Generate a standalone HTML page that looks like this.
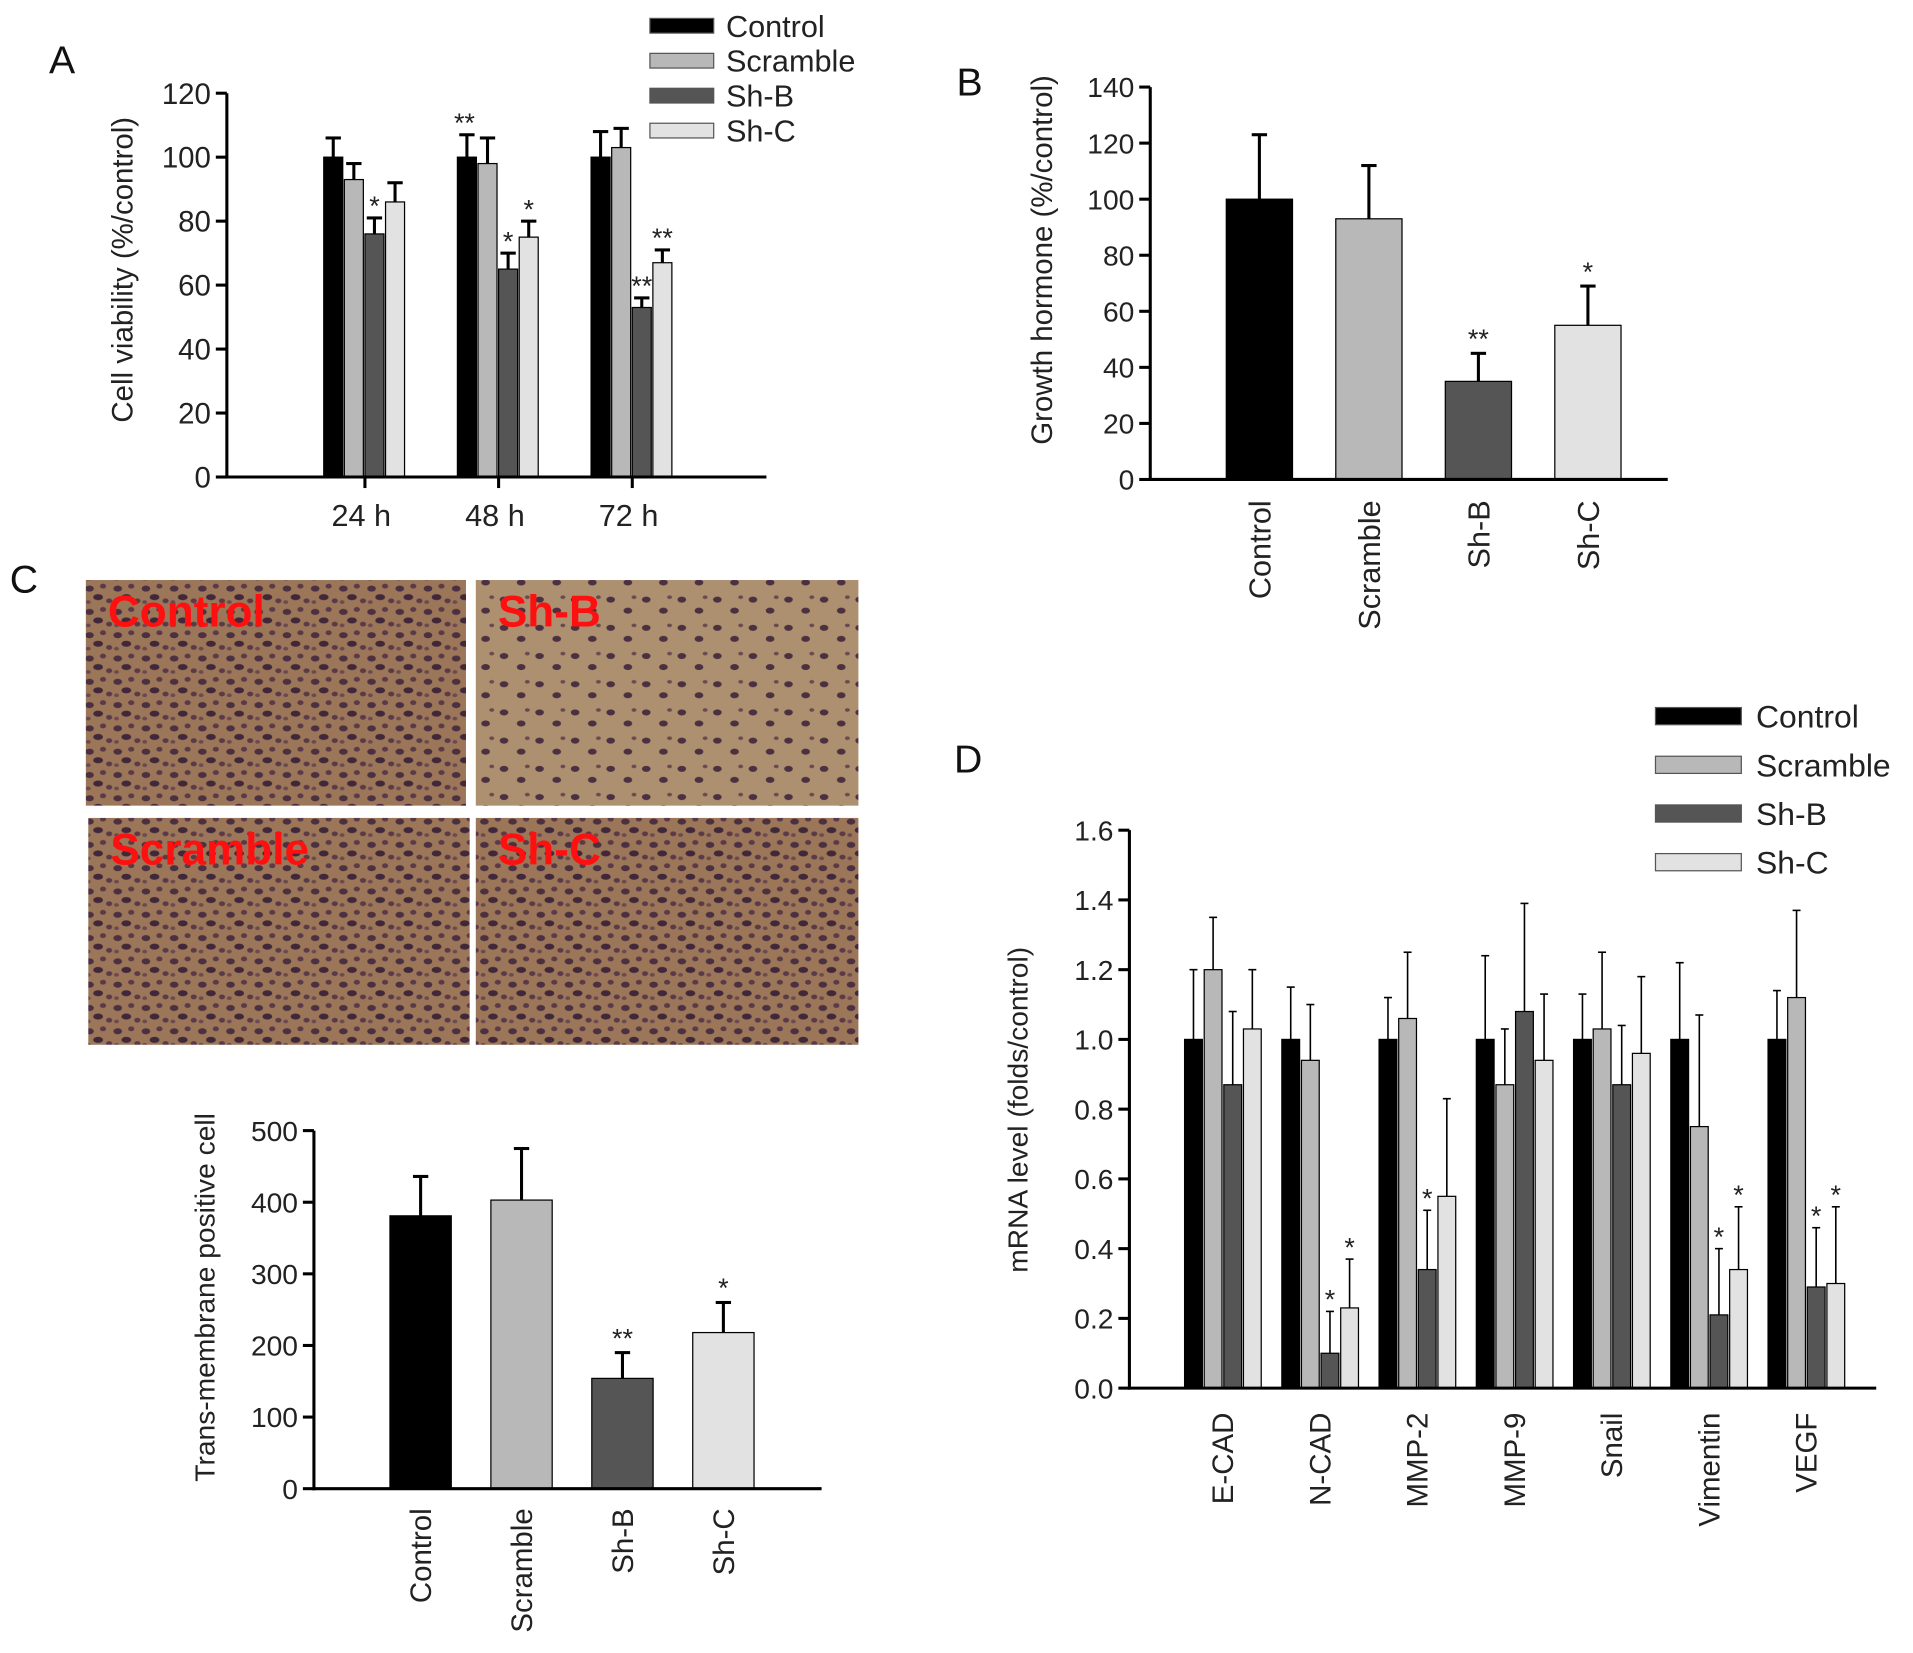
<!DOCTYPE html>
<html><head><meta charset="utf-8"><style>
html,body{margin:0;padding:0;background:#fff}
svg{display:block}
text{font-family:"Liberation Sans",Arial,sans-serif}
</style></head><body>
<svg id="fig" width="1913" height="1653" viewBox="0 0 1560 1348" preserveAspectRatio="none" xmlns="http://www.w3.org/2000/svg">
<defs>
<pattern id="cells" width="23" height="19" patternUnits="userSpaceOnUse">
<rect width="23" height="19" fill="#9c7658"/>
<ellipse cx="4" cy="5" rx="3.5" ry="2.5" fill="#4a3040"/>
<ellipse cx="15" cy="3" rx="2.5" ry="2" fill="#5a3a48"/>
<ellipse cx="11" cy="12" rx="4" ry="2.5" fill="#40283a"/>
<ellipse cx="20" cy="15" rx="2.5" ry="2" fill="#5a3a48"/>
<ellipse cx="3" cy="16" rx="2" ry="1.5" fill="#6a4a50"/>
</pattern>
<pattern id="cells2" width="29" height="23" patternUnits="userSpaceOnUse">
<rect width="29" height="23" fill="#ad9070"/>
<ellipse cx="5" cy="6" rx="3.5" ry="2.5" fill="#4a3040"/>
<ellipse cx="19" cy="15" rx="3.5" ry="2.5" fill="#4a3040"/>
<ellipse cx="24" cy="4" rx="2" ry="1.5" fill="#6a4a50"/>
</pattern>
</defs>
<g id="root"></g>
</svg>
<script>
// ---------- Panel A data ----------
const aCategories = ["24 h","48 h","72 h"];
const aControl = [100,100,100];
const aScramble = [93,98,103];
const aShB = [76,65,53];
const aShC = [86,75,67];
const aControlErr = [6,7,8];
const aScrambleErr = [5,8,6];
const aShBErr = [5,5,3];
const aShCErr = [6,5,4];
const aStars = [["","","*",""],["**","","*","*"],["","","**","**"]];
const aTicks = [0,20,40,60,80,100,120];
// ---------- Panel B data ----------
const bCategories = ["Control","Scramble","Sh-B","Sh-C"];
const bValues = [100,93,35,55];
const bErr = [23,19,10,14];
const bStars = ["","","**","*"];
const bTicks = [0,20,40,60,80,100,120,140];
// ---------- Panel C data ----------
const cCategories = ["Control","Scramble","Sh-B","Sh-C"];
const cValues = [381,403,154,218];
const cErr = [55,72,36,42];
const cStars = ["","","**","*"];
const cTicks = [0,100,200,300,400,500];
// ---------- Panel D data ----------
const dCategories = ["E-CAD","N-CAD","MMP-2","MMP-9","Snail","Vimentin","VEGF"];
const dControl = [1.0,1.0,1.0,1.0,1.0,1.0,1.0];
const dScramble = [1.2,0.94,1.06,0.87,1.03,0.75,1.12];
const dShB = [0.87,0.10,0.34,1.08,0.87,0.21,0.29];
const dShC = [1.03,0.23,0.55,0.94,0.96,0.34,0.30];
const dControlErr = [0.2,0.15,0.12,0.24,0.13,0.22,0.14];
const dScrambleErr = [0.15,0.16,0.19,0.16,0.22,0.32,0.25];
const dShBErr = [0.21,0.12,0.17,0.31,0.17,0.19,0.17];
const dShCErr = [0.17,0.14,0.28,0.19,0.22,0.18,0.22];
const dStars = [["","","",""],["","","*","*"],["","","*",""],["","","",""],["","","",""],["","","*","*"],["","","*","*"]];
const dTicks = ["0.0","0.2","0.4","0.6","0.8","1.0","1.2","1.4","1.6"];

const legendNames = ["Control","Scramble","Sh-B","Sh-C"];
const COLORS = ["#000000","#b8b8b8","#555555","#e2e2e2"];
const NS = "http://www.w3.org/2000/svg";
const root = document.getElementById("root");
function mk(tag, attrs, parent, txt){
  const e = document.createElementNS(NS, tag);
  for (const k in attrs) e.setAttribute(k, attrs[k]);
  if (txt !== undefined) e.textContent = txt;
  (parent||root).appendChild(e);
  return e;
}
function lin(d0,d1,r0,r1){ return v => r0 + (v-d0)/(d1-d0)*(r1-r0); }

function axes(g, x0, xEnd, y, yTicks, tickVals, fs, lw){
  const ax = mk("line",{x1:x0,y1:y(tickVals[tickVals.length-1]),x2:x0,y2:y(0)+lw/2,stroke:"#000","stroke-width":lw},g);
  
  
  const bx = mk("line",{x1:x0-lw/2,y1:y(0),x2:xEnd,y2:y(0),stroke:"#000","stroke-width":lw},g);
  
  
  tickVals.forEach((v,i)=>{
    const t = mk("line",{x1:x0-9,y1:y(v),x2:x0,y2:y(v),stroke:"#000","stroke-width":lw},g);
    
    
    const l = mk("text",{x:x0-13,y:y(v)+fs*0.36,"font-size":fs,"text-anchor":"end",fill:"#222"},g,yTicks[i]);
    
    
  });
}
function bar(g, x, w, v, err, y, color, lw, name){
  const e = mk("line",{x1:x+w/2,y1:y(v),x2:x+w/2,y2:y(v+err),stroke:"#000","stroke-width":lw},g);
  
  
  const c = mk("line",{x1:x+w/2-lw*2.5,y1:y(v+err),x2:x+w/2+lw*2.5,y2:y(v+err),stroke:"#000","stroke-width":lw},g);
  
  
  const r = mk("rect",{x:x,y:y(v),width:w,height:y(0)-y(v),fill:color,stroke:"#000","stroke-width":1},g);
  
  
}
function star(g,x,yy,s,fs){
  if(!s) return;
  const t = mk("text",{x:x,y:yy+fs*0.35,"font-size":fs,"text-anchor":"middle",fill:"#222"},g,s);
  
  
}
function legend(g,x,y0,dy,w,h,fs,tx){
  legendNames.forEach((n,i)=>{
    const r = mk("rect",{x:x,y:y0+i*dy,width:w,height:h,fill:COLORS[i],stroke:"#555","stroke-width":1},g);
    
    
    const t = mk("text",{x:tx,y:y0+i*dy+h/2+fs*0.36,"font-size":fs,fill:"#222"},g,n);
    
    
  });
}
function label(g,x,y,s,fs,name){
  const t = mk("text",{x:x,y:y,"font-size":fs,fill:"#111"},g,s);
  
  
}
function ytitle(g,x,cy,s,fs){
  const t = mk("text",{x:x,y:cy,"font-size":fs,"text-anchor":"middle",fill:"#222",transform:`rotate(-90 ${x} ${cy})`},g,s);
  
  
}
function rotLabel(g,cx,ytop,s,fs){
  const t = mk("text",{x:cx+fs*0.36,y:ytop,"font-size":fs,"text-anchor":"end",fill:"#222",transform:`rotate(-90 ${cx+fs*0.36} ${ytop})`},g,s);
  
  
}

// ---------- Panel A ----------
(function(){
  const g = mk("g",{});  
  label(g,40,60,"A",32,"panel-a-label");
  const y = lin(0,120,389,76);
  const x0 = 185, step = 109, first = 264, bw = 15.5;
  const series = [aControl,aScramble,aShB,aShC], errs=[aControlErr,aScrambleErr,aShBErr,aShCErr];
  aCategories.forEach((c,i)=>{
    const gx = first + i*step;
    series.forEach((s,j)=>{
      const bx = gx + j*(bw+1.3);
      bar(g,bx,bw,s[i],errs[j][i],y,COLORS[j],2.5,'bar-a-'+c.replace(' ','')+'-'+legendNames[j].toLowerCase());
      star(g,bx+bw/2+(aStars[i][j]=="**"&&j==0?-2:0),y(s[i]+errs[j][i])-10,aStars[i][j],22);
    });
    const cx = gx + 2*(bw+1.3);
    const t = mk("line",{x1:cx,y1:389,x2:cx,y2:398,stroke:"#000","stroke-width":2.5},g);
     
    const l = mk("text",{x:cx-3,y:429,"font-size":25,"text-anchor":"middle",fill:"#222"},g,c);
     
  });
  axes(g,x0,625,y,aTicks,aTicks,24,2.5);
  ytitle(g,108,220,"Cell viability (%/control)",24);
  legend(g,530,15,28.5,52,12,25,592);
})();

// ---------- Panel B ----------
(function(){
  const g = mk("g",{});  
  label(g,780,78,"B",32,"panel-b-label");
  const y = lin(0,140,391,71);
  const bw = 54, xs0 = 1000, step = 89.3;
  bCategories.forEach((c,i)=>{
    const bx = xs0 + i*step;
    bar(g,bx,bw,bValues[i],bErr[i],y,COLORS[i],2.5,'bar-b-'+c.toLowerCase());
    star(g,bx+bw/2,y(bValues[i]+bErr[i])-12,bStars[i],22);
    rotLabel(g,bx+bw/2,408,c,25);
  });
  axes(g,938,1360,y,bTicks,bTicks,23,2.5);
  ytitle(g,858,212,"Growth hormone (%/control)",24);
})();

// ---------- Panel C ----------
(function(){
  const g = mk("g",{});  
  label(g,8,483,"C",32,"panel-c-label");
  const imgs = [[70,473,310,184,"Control","cells"],[388,473,312,184,"Sh-B","cells2"],[72,667,311,185,"Scramble","cells"],[388,667,312,185,"Sh-C","cells"]];
  imgs.forEach(im=>{
    const r = mk("rect",{x:im[0],y:im[1],width:im[2],height:im[3],fill:`url(#${im[5]})`},g);
    
    
    const t = mk("text",{x:im[0]+18,y:im[1]+38,"font-size":36,"font-weight":"bold",fill:"#ff1010"},g,im[4]);
    
    
  });
  const y = lin(0,500,1214,922);
  const bw = 50, xs0 = 318, step = 82.3;
  cCategories.forEach((c,i)=>{
    const bx = xs0 + i*step;
    bar(g,bx,bw,cValues[i],cErr[i],y,COLORS[i],2.5,'bar-c-'+c.toLowerCase());
    star(g,bx+bw/2,y(cValues[i]+cErr[i])-12,cStars[i],22);
    rotLabel(g,bx+bw/2,1230,c,24);
  });
  axes(g,256,670,y,cTicks,cTicks,23,2.5);
  ytitle(g,175,1058,"Trans-membrane positive cell",23);
})();

// ---------- Panel D ----------
(function(){
  const g = mk("g",{});  
  label(g,778,630,"D",32,"panel-d-label");
  const y = lin(0,1.6,1132,677);
  const bw = 14.5, first = 966, step = 79.3;
  const series=[dControl,dScramble,dShB,dShC], errs=[dControlErr,dScrambleErr,dShBErr,dShCErr];
  dCategories.forEach((c,i)=>{
    const gx = first + i*step;
    series.forEach((s,j)=>{
      const bx = gx + j*16;
      bar(g,bx,bw,s[i],errs[j][i],y,COLORS[j],1.3,'bar-d-'+c.toLowerCase()+'-'+legendNames[j].toLowerCase());
      star(g,bx+bw/2,y(s[i]+errs[j][i])-10,dStars[i][j],22);
    });
    rotLabel(g,gx+31,1152,c,24);
  });
  const dv = dTicks.map(Number);
  axes(g,921,1530,y,dTicks,dv,23,2.5);
  ytitle(g,838,905,"mRNA level (folds/control)",23);
  legend(g,1350,577,39.7,70,14,26,1432);
})();
</script>
</body></html>
